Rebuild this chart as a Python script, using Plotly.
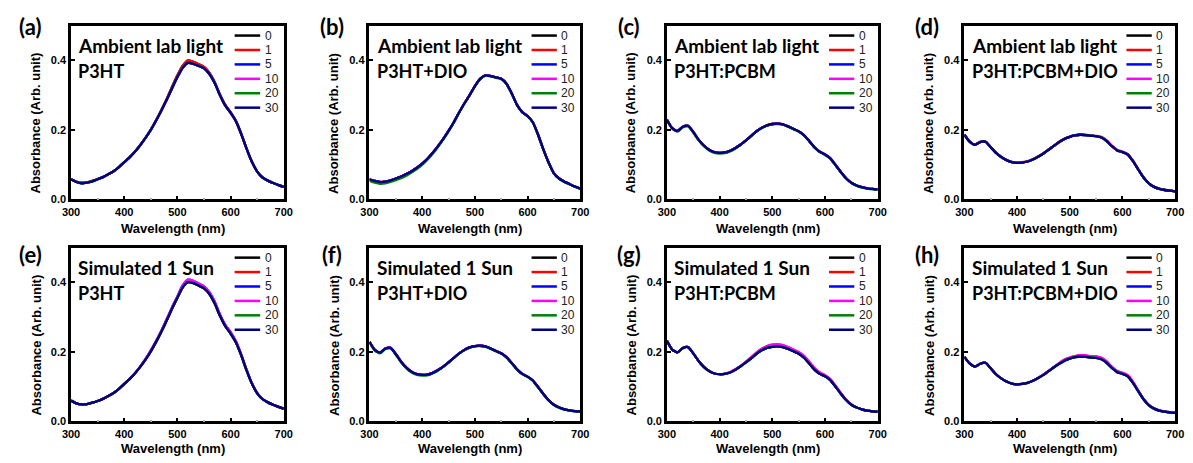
import plotly.graph_objects as go

# ---------------- data ----------------
WL = list(range(300, 701, 10))  # wavelength (nm)

SERIES = ["0", "1", "5", "10", "20", "30"]
COLORS = ["#000000", "#ff0000", "#0000ff", "#ff00ff", "#008000", "#000080"]

PANEL_LABELS = ["(a)", "(b)", "(c)", "(d)", "(e)", "(f)", "(g)", "(h)"]
LIGHT_TEXT = ["Ambient lab light"] * 4 + ["Simulated 1 Sun"] * 4
SAMPLE_TEXT = ["P3HT", "P3HT+DIO", "P3HT:PCBM", "P3HT:PCBM+DIO"] * 2

X_TICKS = [300, 400, 500, 600, 700]
Y_TICKS = [0.0, 0.2, 0.4]

# (a) Ambient, P3HT
A_HI = [.058, .051, .048, .049, .053, .058, .064, .072, .081, .093, .107, .121, .137, .156, .177, .201,
        .228, .258, .290, .324, .357, .385, .400, .396, .389, .381, .365, .338, .302, .272, .251, .226,
        .189, .146, .108, .080, .063, .054, .047, .041, .036]
A_LO = [.058, .050, .046, .048, .052, .058, .064, .072, .081, .093, .107, .121, .137, .156, .177, .200,
        .227, .256, .287, .320, .352, .379, .393, .390, .384, .377, .361, .335, .300, .270, .249, .225,
        .188, .146, .108, .080, .063, .054, .047, .041, .036]
# (b) Ambient, P3HT+DIO
B_BASE = [.058, .053, .050, .051, .055, .060, .066, .073, .081, .091, .103, .117, .134, .153, .174, .197,
          .222, .250, .276, .300, .326, .347, .357, .355, .351, .347, .333, .305, .272, .251, .240, .222,
          .186, .144, .106, .075, .060, .051, .044, .037, .031]
B_GREEN = [.053, .048, .045, .046, .050, .055, .061, .068, .077, .087, .099, .114, .131, .151, .172, .195,
           .221, .249, .275, .299, .325, .346, .356, .354, .350, .346, .332, .304, .271, .250, .239, .221,
           .185, .143, .105, .074, .059, .050, .043, .036, .030]
# (c) Ambient, P3HT:PCBM
C_BASE = [.229, .205, .197, .209, .212, .194, .172, .155, .143, .136, .134, .135, .140, .148, .158, .170,
          .183, .196, .206, .213, .217, .218, .216, .210, .203, .196, .185, .168, .150, .137, .129, .118,
          .099, .079, .061, .048, .040, .035, .032, .030, .029]
C_LOW = [.229, .204, .195, .207, .210, .192, .170, .153, .141, .134, .132, .133, .138, .146, .157, .169,
         .182, .195, .205, .212, .216, .217, .215, .209, .202, .195, .184, .167, .149, .136, .128, .117,
         .098, .078, .060, .047, .039, .034, .031, .029, .028]
# (d) Ambient, P3HT:PCBM+DIO
D_BASE = [.186, .166, .157, .165, .166, .150, .134, .122, .113, .107, .105, .106, .109, .115, .123, .132,
          .143, .154, .165, .174, .180, .184, .186, .185, .183, .182, .178, .168, .153, .141, .136, .129,
          .110, .086, .063, .046, .036, .030, .027, .025, .023]
D_HI = [.187, .167, .158, .166, .167, .151, .135, .123, .114, .108, .106, .107, .110, .116, .124, .133,
        .144, .155, .166, .175, .181, .185, .187, .186, .184, .183, .180, .170, .155, .143, .138, .131,
        .112, .088, .064, .047, .037, .031, .028, .026, .024]
# (e) Simulated 1 Sun, P3HT
E_BASE = [.060, .052, .049, .050, .054, .059, .065, .073, .082, .094, .108, .122, .138, .157, .178, .202,
          .229, .259, .291, .325, .356, .386, .401, .398, .391, .383, .367, .340, .304, .274, .253, .227,
          .190, .147, .109, .081, .064, .055, .048, .042, .037]
E_HI = [.060, .052, .049, .050, .054, .059, .065, .073, .082, .094, .108, .123, .139, .158, .180, .205,
        .232, .262, .295, .329, .360, .392, .408, .405, .397, .389, .372, .345, .308, .278, .257, .231,
        .193, .149, .110, .082, .064, .055, .048, .042, .037]
# (f) Simulated 1 Sun, P3HT+DIO
F_BASE = [.229, .206, .198, .210, .212, .194, .172, .155, .143, .136, .134, .135, .140, .148, .158, .170,
          .183, .196, .206, .213, .217, .218, .216, .210, .203, .196, .185, .168, .150, .137, .129, .118,
          .099, .079, .061, .048, .040, .035, .032, .030, .029]
F_LOW = [.228, .204, .196, .208, .210, .192, .170, .153, .141, .134, .132, .133, .138, .146, .157, .169,
         .182, .195, .205, .212, .216, .217, .215, .209, .202, .195, .184, .167, .149, .136, .128, .117,
         .098, .078, .060, .047, .039, .034, .031, .029, .028]
# (g) Simulated 1 Sun, P3HT:PCBM
G_BASE = [.232, .207, .199, .211, .214, .196, .174, .157, .145, .138, .136, .137, .141, .149, .159, .170,
          .182, .195, .205, .212, .215, .216, .214, .209, .202, .195, .184, .167, .149, .137, .130, .119,
          .100, .080, .062, .048, .040, .035, .031, .029, .028]
G_HI = [.232, .207, .199, .211, .214, .196, .174, .157, .145, .138, .136, .137, .142, .150, .160, .172,
        .185, .198, .209, .217, .221, .222, .220, .214, .207, .200, .189, .172, .154, .141, .133, .122,
        .103, .082, .063, .049, .040, .035, .031, .029, .028]
# (h) Simulated 1 Sun, P3HT:PCBM+DIO
H_BASE = [.186, .167, .158, .166, .169, .153, .136, .124, .115, .109, .107, .108, .111, .117, .125, .134,
          .145, .156, .166, .175, .181, .185, .187, .186, .184, .183, .179, .169, .154, .142, .137, .130,
          .111, .087, .064, .047, .037, .031, .028, .026, .025]
H_HI = [.186, .167, .158, .166, .169, .153, .136, .124, .115, .109, .107, .108, .111, .117, .125, .135,
        .146, .157, .168, .178, .184, .188, .191, .190, .188, .187, .183, .173, .157, .145, .140, .133,
        .114, .089, .065, .048, .038, .032, .029, .027, .025]

# which array each series (0,1,5,10,20,30) of each panel uses
PANEL_DATA = [
    [A_HI, A_HI, A_LO, A_LO, A_LO, A_LO],
    [B_BASE, B_BASE, B_BASE, B_BASE, B_GREEN, B_BASE],
    [C_BASE, C_BASE, C_BASE, C_BASE, C_LOW, C_BASE],
    [D_BASE, D_HI, D_BASE, D_BASE, D_BASE, D_BASE],
    [E_BASE, E_BASE, E_HI, E_HI, E_BASE, E_BASE],
    [F_BASE, F_BASE, F_BASE, F_BASE, F_LOW, F_BASE],
    [G_BASE, G_HI, G_BASE, G_HI, G_BASE, G_BASE],
    [H_BASE, H_HI, H_BASE, H_HI, H_BASE, H_BASE],
]

# ---------------- layout geometry ----------------
W, H = 1193, 463
COL_DOM = [(63 / W, 279 / W), (366 / W, 580 / W), (668 / W, 882 / W), (970 / W, 1184 / W)]
ROW_DOM = [(1 - 202 / H, 1 - 26 / H), (1 - 427 / H, 1 - 251 / H)]
LABEL_XSHIFT = [-41, -37, -38, -37]
LABEL_YSHIFT = [-1, -7]
XTITLE_YSHIFT = [-29.5, -27.5]

LEG_Y = [0.943, 0.860, 0.777, 0.694, 0.611, 0.528]

TICK_FONT = dict(family="Liberation Sans, Arial", size=11, color="black", weight="bold")
TITLE_FONT = dict(family="Liberation Sans, Arial", size=13, color="black", weight="bold")
TEXT_FONT = dict(family="Lato, Noto Sans", size=19, color="black", weight="bold")
SAMPLE_FONT = dict(family="Lato, Noto Sans", size=18, color="black", weight="bold")
LABEL_FONT = dict(family="Lato, Noto Sans", size=22, color="black", weight="bold")
LEG_FONT = dict(family="Liberation Sans, Arial", size=12, color="#222222")

fig = go.Figure()
layout = dict(width=W, height=H, margin=dict(l=0, r=0, t=0, b=0),
              paper_bgcolor="white", plot_bgcolor="white", showlegend=False)
annotations = []
shapes = []

for i, series_arrays in enumerate(PANEL_DATA):
    row, col = divmod(i, 4)
    sfx = "" if i == 0 else str(i + 1)
    xa, ya = "x" + sfx, "y" + sfx
    for name, color, yvals in zip(SERIES, COLORS, series_arrays):
        fig.add_trace(go.Scatter(
            x=WL, y=yvals, mode="lines", name=name,
            line=dict(color=color, width=2.3, shape="spline", smoothing=0.6),
            xaxis=xa, yaxis=ya, showlegend=False, hoverinfo="skip"))

    layout["xaxis" + sfx] = dict(
        domain=COL_DOM[col], anchor=ya, range=[300, 700], tickvals=X_TICKS,
        ticks="inside", ticklen=4, tickwidth=1.5, tickcolor="black",
        minor=dict(ticks="inside", ticklen=2, tickwidth=1.5, tickcolor="#aaaaaa", dtick=50, tick0=300),
        showline=True, linewidth=2.5, linecolor="black", mirror=True,
        showgrid=False, zeroline=False, tickfont=TICK_FONT, ticklabelstandoff=1)
    layout["yaxis" + sfx] = dict(
        domain=ROW_DOM[row], anchor=xa, range=[0, 0.5], tickvals=Y_TICKS, tickformat=".1f",
        ticks="inside", ticklen=4, tickwidth=1.5, tickcolor="black",
        showline=True, linewidth=2.5, linecolor="black", mirror=True,
        showgrid=False, zeroline=False, tickfont=TICK_FONT, ticklabelstandoff=0)

    xd, yd = xa + " domain", ya + " domain"
    # panel label
    annotations.append(dict(text=PANEL_LABELS[i], xref=xd, yref=yd, x=0, y=1,
                            xanchor="center", yanchor="middle", xshift=LABEL_XSHIFT[col],
                            yshift=LABEL_YSHIFT[row], showarrow=False, font=LABEL_FONT))
    # condition texts
    annotations.append(dict(text=LIGHT_TEXT[i], xref=xd, yref=yd, x=0.025, y=0.886,
                            xanchor="left", yanchor="middle", showarrow=False, font=TEXT_FONT))
    annotations.append(dict(text=SAMPLE_TEXT[i], xref=xd, yref=yd, x=0.025, y=0.74,
                            xanchor="left", yanchor="middle", showarrow=False, font=SAMPLE_FONT))
    # axis titles
    annotations.append(dict(text="Wavelength (nm)", xref=xd, yref=yd, x=0.479, y=0,
                            xanchor="center", yanchor="middle", yshift=XTITLE_YSHIFT[row],
                            showarrow=False, font=TITLE_FONT))
    annotations.append(dict(text="Absorbance (Arb. unit)", xref=xd, yref=yd, x=0, y=0.44,
                            xanchor="center", yanchor="middle", xshift=-35.5, textangle=-90,
                            showarrow=False, font=TITLE_FONT))
    # legend
    for name, color, ly in zip(SERIES, COLORS, LEG_Y):
        shapes.append(dict(type="line", xref=xd, yref=yd, x0=0.769, x1=0.889, y0=ly, y1=ly,
                           line=dict(color=color, width=2.5)))
        annotations.append(dict(text=name, xref=xd, yref=yd, x=0.9, y=ly, xanchor="left",
                                yanchor="middle", showarrow=False, font=LEG_FONT))

layout["annotations"] = annotations
layout["shapes"] = shapes
fig.update_layout(**layout)
fig.write_html("out.html", config={"displayModeBar": False},
               post_script="document.body.style.margin='0px';document.body.style.overflow='hidden';")
